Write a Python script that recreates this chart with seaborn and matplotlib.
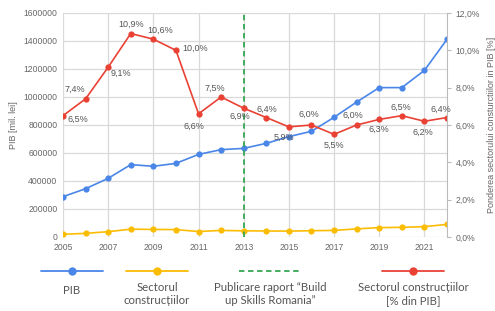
import numpy as np
import pandas as pd
import matplotlib
matplotlib.use("Agg")
import matplotlib.pyplot as plt
import seaborn as sns

# values
years = list(range(2005, 2023))
pib = [288000, 345000, 419000, 517000, 505000, 526000, 590000, 624000, 633000,
       669000, 717000, 755000, 855000, 964000, 1067000, 1067000, 1190000, 1412000]
constructii = [19000, 26000, 38000, 56000, 54000, 53000, 39000, 47000, 44000,
               43000, 42000, 45000, 47000, 58000, 67000, 69000, 74000, 90000]
pondere = [6.5, 7.4, 9.1, 10.9, 10.6, 10.0, 6.6, 7.5, 6.9,
           6.4, 5.9, 6.0, 5.5, 6.0, 6.3, 6.5, 6.2, 6.4]
an_raport = 2013

legend_labels = ["PIB", "Sectorul\nconstrucțiilor",
                 "Publicare raport “Build\nup Skills Romania”",
                 "Sectorul construcțiilor\n[% din PIB]"]

# label offsets (pixels) for the percentage annotations
label_offsets = [(15, -4), (-11, 10), (13, -6), (0, 9), (7, 9), (19, 2), (-5, -13),
                 (-6, 9), (-4, -8), (1, 8), (-5, -10), (-3, 11), (0, -11), (-4, 10),
                 (0, -10), (-1, 8), (-2, -11), (-6, 8)]

BLUE = "#4a86e8"
YELLOW = "#fbbc04"
RED = "#e94235"
GREEN = "#34a853"
GRID = "#d9d9d9"
TXT = "#666666"

df = pd.DataFrame({"an": years, "pib": pib, "constructii": constructii, "pondere": pondere})

sns.set_style("white")
plt.rcParams["font.family"] = ["Liberation Sans", "DejaVu Sans"]

fig = plt.figure(figsize=(4.95, 3.11), dpi=100)
ax = fig.add_axes([63 / 495, 1 - 237 / 311, (447 - 63) / 495, 224 / 311])
ax2 = ax.twinx()

line_kw = dict(marker="o", markersize=4.5, linewidth=1.2, markeredgewidth=0)
sns.lineplot(data=df, x="an", y="pib", ax=ax, color=BLUE, **line_kw)
sns.lineplot(data=df, x="an", y="constructii", ax=ax, color=YELLOW, **line_kw)
ax.axvline(an_raport, color=GREEN, linestyle=(0, (3, 2)), linewidth=1.3)
sns.lineplot(data=df, x="an", y="pondere", ax=ax2, color=RED, **line_kw)

ax.set_xlim(2005, 2022)
ax.set_ylim(0, 1600000)
ax2.set_ylim(0, 12)
ax.set_xticks(range(2005, 2022, 2))
ax.set_yticks(range(0, 1600001, 200000))
ax2.set_yticks(range(0, 13, 2))
ax.set_yticklabels([str(v) for v in range(0, 1600001, 200000)])
ax2.set_yticklabels([f"{v:.1f}%".replace(".", ",") for v in range(0, 13, 2)])

ax.grid(True, color=GRID, linewidth=0.9)
ax.set_axisbelow(True)
ax2.grid(False)
for a in (ax, ax2):
    for s in a.spines.values():
        s.set_visible(False)
ax2.spines["right"].set_visible(True)
ax2.spines["right"].set_color("#bbbbbb")

ax.tick_params(axis="both", length=0, labelsize=6.2, labelcolor=TXT, pad=4)
ax2.tick_params(axis="y", length=3, color="#bbbbbb", labelsize=6.2, labelcolor=TXT, pad=3)

ax.set_xlabel("")
ax.set_ylabel("PIB [mil. lei]", fontsize=6.5, color=TXT, labelpad=4)
ax2.set_ylabel("Ponderea sectorului consturctiilor in PIB [%]", fontsize=6.5,
               color=TXT, labelpad=5)

for x, v, (dx, dy) in zip(years, pondere, label_offsets):
    ax2.annotate(f"{v:.1f}%".replace(".", ","), (x, v), xytext=(dx, dy),
                 textcoords="offset pixels", ha="center", va="center",
                 fontsize=6.5, color="#555555")

# custom legend: symbol above text
lg = fig.add_axes([0, 0, 1, 1 - 250 / 311])
lg.set_xlim(0, 495)
lg.set_ylim(61, 0)
lg.axis("off")
centers = [72, 157, 270, 413]
text_y = [40, 44, 44, 44]
styles = [(BLUE, "-", "o"), (YELLOW, "-", "o"), (GREEN, (0, (3, 2)), None), (RED, "-", "o")]
for cx, ty, (col, ls, mk), lab in zip(centers, text_y, styles, legend_labels):
    lg.plot([cx - 31, cx + 31], [21, 21], color=col, linestyle=ls, linewidth=1.3)
    if mk:
        lg.plot([cx], [21], marker=mk, markersize=6, color=col, markeredgewidth=0)
    lg.text(cx, ty, lab, ha="center", va="center", fontsize=8.2, color="#555555",
            family=["Lato", "DejaVu Sans"], linespacing=1.2)

fig.savefig("out.png", dpi=100)
